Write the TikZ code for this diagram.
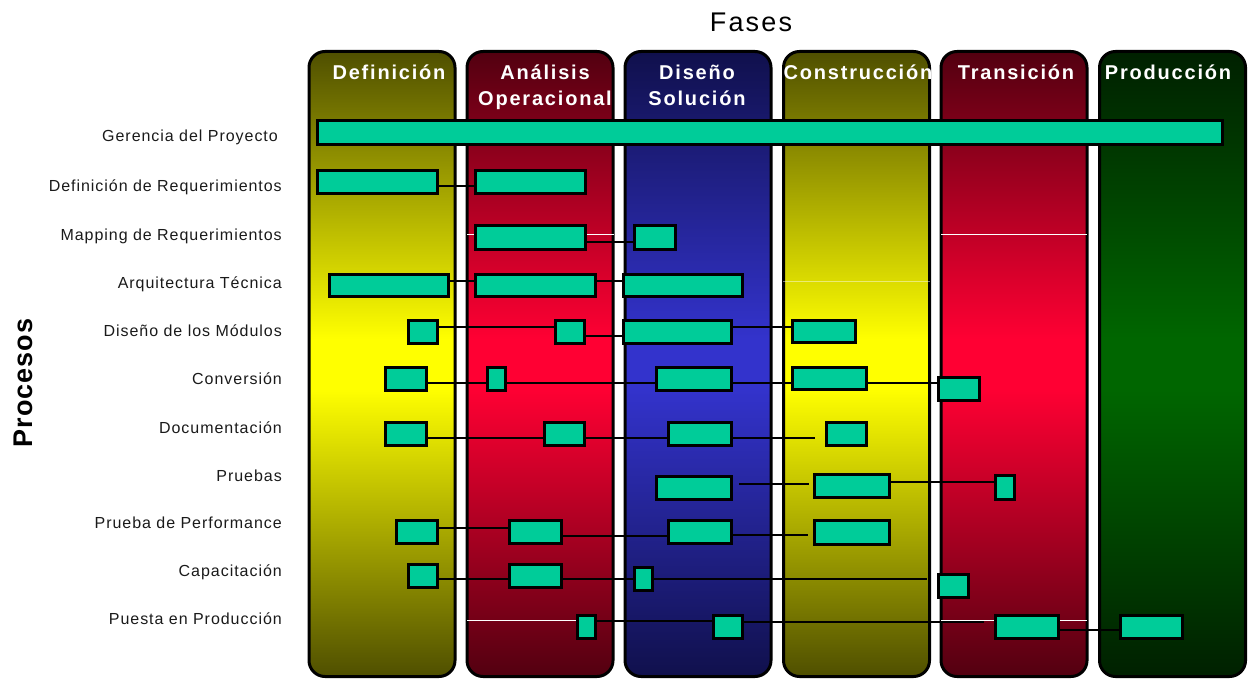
\documentclass[tikz,border=0pt]{standalone}
\usepackage{fontspec}
\setmainfont{Liberation Sans}[LetterSpace=8]
\newfontfamily\headfont{Liberation Sans}[LetterSpace=9]
\newfontfamily\labelfont{Liberation Sans}[LetterSpace=6]
\newfontfamily\axisfont{Liberation Sans}[LetterSpace=4]
\usetikzlibrary{calc}

% phase colours: dark ends, bright band in the middle
\definecolor{oliveDark}{HTML}{4F4F00}
\definecolor{oliveLight}{HTML}{FFFF00}
\definecolor{wineDark}{HTML}{520010}
\definecolor{wineLight}{HTML}{FF0033}
\definecolor{navyDark}{HTML}{10104C}
\definecolor{navyLight}{HTML}{3333CC}
\definecolor{pineDark}{HTML}{002000}
\definecolor{pineLight}{HTML}{006600}
\definecolor{taskfill}{HTML}{00CC99}
\definecolor{labelgray}{HTML}{1A1A1A}

\newcommand\phaseshading[3]{%
  \pgfdeclareverticalshading{#1}{100bp}{color(0bp)=(#2); color(25bp)=(#2);
    color(48bp)=(#3); color(52bp)=(#3); color(75bp)=(#2); color(100bp)=(#2)}}
\phaseshading{olivesh}{oliveDark}{oliveLight}
\phaseshading{winesh}{wineDark}{wineLight}
\phaseshading{navysh}{navyDark}{navyLight}
\phaseshading{pinesh}{pineDark}{pineLight}

% fixed first-line height so every title starts on the same baseline
\newcommand\headstrut{\rule{0pt}{16pt}}

\tikzset{
  phasecol/.style={draw=black, line width=3pt, rounded corners=16pt, shade,
    minimum width=146pt, minimum height=625pt, inner sep=0pt},
  phasehead/.style={text=white, font=\headfont\fontsize{20}{26}\selectfont\bfseries,
    align=center, anchor=north, inner sep=0pt},
  taskbox/.style={draw=black, line width=3pt, fill=taskfill, inner sep=0pt},
  connector/.style={draw=black, line width=2.6pt},
  proclabel/.style={text=labelgray, font=\labelfont\fontsize{16}{19}\selectfont,
    anchor=base east, inner sep=0pt},
  artefact/.style={draw=white, line width=1pt},
}

% task bar given by its outer corners (x1,y1) (x2,y2)
\newcommand\taskbar[5]{%
  \node[taskbox, minimum width={#4-#2-3}, minimum height={#5-#3-3}]
    (#1) at ({(#2+#4)/2},{(#3+#5)/2}) {};}
% horizontal link between two bars at height y
\newcommand\tasklink[3]{\draw[connector] (#1.east |- 0,#3) -- (#2.west |- 0,#3);}

\begin{document}
\begin{tikzpicture}[x=1pt, y=-1pt]
\useasboundingbox (0,0) rectangle (1249,679);

% phase columns
\node[phasecol, shading=olivesh] (def) at (382,364) {};
\node[phasecol, shading=winesh]  (ana) at (540,364) {};
\node[phasecol, shading=navysh]  (dis) at (698,364) {};
\node[phasecol, shading=olivesh] (con) at (856.5,364) {};
\node[phasecol, shading=winesh]  (tra) at (1014,364) {};
\node[phasecol, shading=pinesh]  (pro) at (1172.5,364) {};

% phase titles
\node[phasehead] (hdef) at (389,63) {\headstrut Definición};
\node[phasehead] (hana) at (545,63) {\headstrut Análisis\\Operacional};
\node[phasehead] (hdis) at (697,63) {\headstrut Diseño\\Solución};
\node[phasehead] (hcon) at (858,63) {\headstrut Construcción};
\node[phasehead] (htra) at (1016,63) {\headstrut Transición};
\node[phasehead] (hpro) at (1168,63) {\headstrut Producción};

% faint rules across some columns
\draw[artefact] (467,234) -- (614,234);
\draw[artefact] (941,234) -- (1087,234);
\draw[artefact, draw opacity=0.45] (783,281) -- (930,281);
\draw[artefact] (467,620) -- (614,620);
\draw[artefact] (941,620) -- (1087,620);

% axis titles
\node[font=\fontsize{27}{30}\selectfont, anchor=base, inner sep=0pt] (fases) at (751,32) {Fases};
\node[font=\axisfont\fontsize{27}{30}\selectfont\bfseries, anchor=base, rotate=90, inner sep=0pt] (procesos) at (32,383) {Procesos};

% process labels
\node[proclabel] (l1)  at (278,142) {Gerencia del Proyecto};
\node[proclabel] (l2)  at (282,192) {Definición de Requerimientos};
\node[proclabel] (l3)  at (282,240) {Mapping de Requerimientos};
\node[proclabel] (l4)  at (282,288) {Arquitectura Técnica};
\node[proclabel] (l5)  at (282,336) {Diseño de los Módulos};
\node[proclabel] (l6)  at (282,384) {Conversión};
\node[proclabel] (l7)  at (282,433) {Documentación};
\node[proclabel] (l8)  at (282,481) {Pruebas};
\node[proclabel] (l9)  at (282,528) {Prueba de Performance};
\node[proclabel] (l10) at (282,576) {Capacitación};
\node[proclabel] (l11) at (282,624) {Puesta en Producción};

% task bars
\taskbar{g1}{316}{119}{1224}{146}
\taskbar{dr1}{316}{169}{439}{195}
\taskbar{dr2}{474}{169}{587}{195}
\taskbar{mr1}{474}{224}{587}{251}
\taskbar{mr2}{633}{224}{677}{251}
\taskbar{at1}{328}{273}{450}{298}
\taskbar{at2}{474}{273}{597}{298}
\taskbar{at3}{622}{273}{744}{298}
\taskbar{dm1}{407}{319}{439}{345}
\taskbar{dm2}{554}{319}{586}{345}
\taskbar{dm3}{622}{319}{733}{345}
\taskbar{dm4}{791}{319}{857}{344}
\taskbar{cv1}{384}{366}{428}{392}
\taskbar{cv2}{486}{366}{507}{392}
\taskbar{cv3}{655}{366}{733}{392}
\taskbar{cv4}{791}{366}{868}{391}
\taskbar{cv5}{937}{376}{981}{402}
\taskbar{dc1}{384}{421}{428}{447}
\taskbar{dc2}{543}{421}{586}{447}
\taskbar{dc3}{667}{421}{733}{447}
\taskbar{dc4}{825}{421}{868}{447}
\taskbar{pr1}{655}{475}{733}{501}
\taskbar{pr2}{813}{473}{891}{499}
\taskbar{pr3}{994}{474}{1016}{501}
\taskbar{pp1}{395}{519}{439}{545}
\taskbar{pp2}{508}{519}{563}{545}
\taskbar{pp3}{667}{519}{733}{545}
\taskbar{pp4}{813}{519}{891}{546}
\taskbar{cp1}{407}{563}{439}{589}
\taskbar{cp2}{508}{563}{563}{589}
\taskbar{cp3}{633}{566}{654}{592}
\taskbar{cp4}{937}{573}{970}{599}
\taskbar{pu1}{576}{614}{597}{640}
\taskbar{pu2}{712}{614}{744}{640}
\taskbar{pu3}{994}{614}{1060}{640}
\taskbar{pu4}{1119}{614}{1184}{640}

% open ends of some links
\coordinate (dcEnd) at (815,438);
\coordinate (prStart) at (739,484);
\coordinate (prEnd) at (809,484);
\coordinate (ppEnd) at (808,535);
\coordinate (cpEnd) at (927,579);
\coordinate (puEnd) at (984,622);

% links between bars
\tasklink{dr1}{dr2}{186}
\tasklink{mr1}{mr2}{242}
\tasklink{at1}{at2}{281}
\tasklink{at2}{at3}{281}
\tasklink{dm1}{dm2}{327}
\tasklink{dm2}{dm3}{336}
\tasklink{dm3}{dm4}{327}
\tasklink{cv1}{cv2}{383}
\tasklink{cv2}{cv3}{383}
\tasklink{cv3}{cv4}{383}
\tasklink{cv4}{cv5}{383}
\tasklink{dc1}{dc2}{438}
\tasklink{dc2}{dc3}{438}
\draw[connector] (dc3.east |- 0,438) -- (dcEnd);
\draw[connector] (prStart) -- (prEnd);
\tasklink{pr2}{pr3}{482}
\tasklink{pp1}{pp2}{528}
\tasklink{pp2}{pp3}{536}
\draw[connector] (pp3.east |- 0,535) -- (ppEnd);
\tasklink{cp1}{cp2}{579}
\tasklink{cp2}{cp3}{579}
\draw[connector] (cp3.east |- 0,579) -- (cpEnd);
\tasklink{pu1}{pu2}{621}
\draw[connector] (pu2.east |- 0,622) -- (puEnd);
\tasklink{pu3}{pu4}{630}

\end{tikzpicture}
\end{document}
